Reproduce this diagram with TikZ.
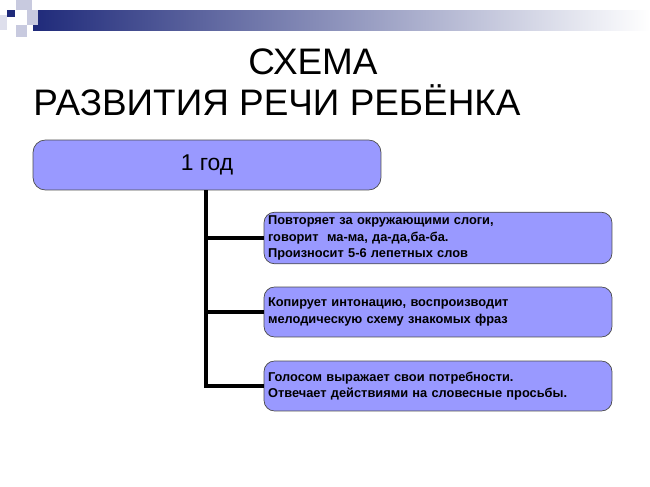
\documentclass[tikz,border=0pt]{standalone}
\usepackage{fontspec}
\setmainfont{Liberation Sans}
\usetikzlibrary{positioning}
\definecolor{boxfill}{HTML}{9999FF}
\definecolor{navy}{HTML}{1F2A7A}
\definecolor{pale}{HTML}{C8CADF}
\tikzset{
	yearbox/.style={draw=black!70,fill=boxfill,rounded corners=7pt,minimum width=6.96cm,minimum height=1cm,font=\fontsize{13}{15}\selectfont},
	stepbox/.style={draw=black!70,fill=boxfill,rounded corners=6pt,minimum width=6.96cm,minimum height=1cm,text width=6.8cm,align=left,font=\bfseries\fontsize{7.3}{9.4}\selectfont,inner sep=2pt},
	branch/.style={line width=2.6pt}
}
\begin{document}
\begin{tikzpicture}[x=0.02cm,y=-0.02cm]
\useasboundingbox (0,0) rectangle (650,487);
% header bar
\shade[left color=navy,right color=white] (33,10) rectangle (650,30);
\fill[pale] (16,0) rectangle (32,10);
\fill[pale] (27,10) rectangle (38,25);
\fill[pale] (16,25) rectangle (27,37);
\fill[pale!60] (0,15) rectangle (7,30);
\fill[navy] (7,10) rectangle (15,17);
% title
\node (title1) at (313,62) {\fontsize{21}{25}\selectfont СХЕМА};
\node (title2) at (277,100) {\fontsize{21}{25}\selectfont РАЗВИТИЯ РЕЧИ РЕБЁНКА};
% boxes
\node[yearbox] (year) at (207,165) {1 год};
\node[stepbox] (s1) at (438,238) {Повторяет за окружающими слоги,\\говорит\ \ ма-ма, да-да,ба-ба.\\Произносит 5-6 лепетных слов\\[-4pt]};
\node[stepbox] (s2) at (438,312) {Копирует интонацию, воспроизводит\\мелодическую схему знакомых фраз};
\node[stepbox] (s3) at (438,386) {Голосом выражает свои потребности.\\Отвечает действиями на словесные просьбы.};
% connectors
\coordinate (trunk) at (206,386);
\draw[branch] (year.south -| trunk) -- (trunk) -- (s3.west);
\foreach \s in {s1,s2}{
	\draw[branch] (\s.west -| trunk) -- (\s.west);
}
\end{tikzpicture}
\end{document}
